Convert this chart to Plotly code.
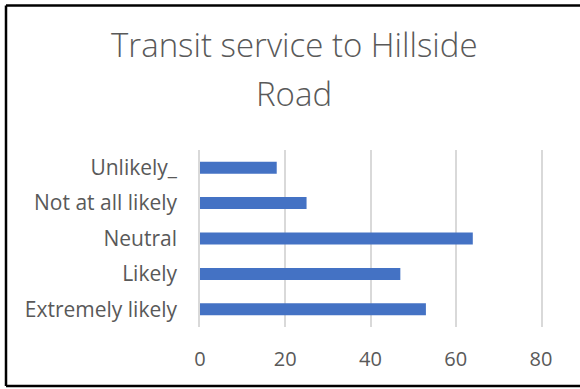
import plotly.graph_objects as go

# Survey responses, listed top to bottom as shown on the chart
categories = ["Unlikely_", "Not at all likely", "Neutral", "Likely", "Extremely likely"]
counts = [18, 25, 64, 47, 53]
x_ticks = [0, 20, 40, 60, 80]

title_lines = ["Transit service to Hillside", "Road"]

W, H = 580, 389
L, R, T, B = 200, 39, 150, 62
plot_w = W - L - R
plot_h = H - T - B

text_color = "#595959"
grid_color = "#D9D9D9"
font_family = "Open Sans, Calibri, Carlito, sans-serif"


def px_to_paper_x(px):
    return (px - L) / plot_w


def px_to_paper_y(py):
    return (H - B - py) / plot_h


fig = go.Figure(
    go.Bar(
        x=counts,
        y=categories,
        orientation="h",
        marker=dict(color="#4472C4", line=dict(width=0)),
        width=0.34,
    )
)

fig.update_layout(
    width=W,
    height=H,
    margin=dict(l=L, r=R, t=T, b=B),
    paper_bgcolor="white",
    plot_bgcolor="white",
    showlegend=False,
    font=dict(family=font_family, color=text_color),
)

fig.update_xaxes(
    range=[0, 80],
    tickvals=x_ticks,
    showgrid=True,
    gridcolor=grid_color,
    gridwidth=1.5,
    zeroline=False,
    showline=False,
    tickfont=dict(size=20, color=text_color),
    ticklabelstandoff=18,
)

# The y-axis line (mirrored) supplies the gridlines at 0 and 80
fig.update_yaxes(
    categoryorder="array",
    categoryarray=categories,
    autorange="reversed",
    showgrid=False,
    zeroline=False,
    showline=True,
    mirror=True,
    linecolor=grid_color,
    linewidth=1.5,
    tickfont=dict(size=21, color=text_color),
    ticklabelstandoff=17,
)

# Chart title, two centred lines
for line, py in zip(title_lines, [44, 93]):
    fig.add_annotation(
        text=line,
        xref="paper",
        yref="paper",
        x=px_to_paper_x(294),
        y=px_to_paper_y(py),
        xanchor="center",
        yanchor="middle",
        showarrow=False,
        font=dict(size=33, color=text_color, family=font_family, weight=300),
    )

# Outer frame: left, top and bottom edges (the right edge lies past the window)
frame_left, frame_top, frame_bottom, frame_right = 6, 5.5, 386, 600
for x0, y0, x1, y1 in [
    (frame_left, frame_top, frame_left, frame_bottom),
    (frame_left, frame_top, frame_right, frame_top),
    (frame_left, frame_bottom, frame_right, frame_bottom),
]:
    fig.add_shape(
        type="line",
        xref="paper",
        yref="paper",
        x0=px_to_paper_x(x0),
        x1=px_to_paper_x(x1),
        y0=px_to_paper_y(y0),
        y1=px_to_paper_y(y1),
        line=dict(color="black", width=2.5),
        layer="above",
    )

fig.write_html("out.html")
